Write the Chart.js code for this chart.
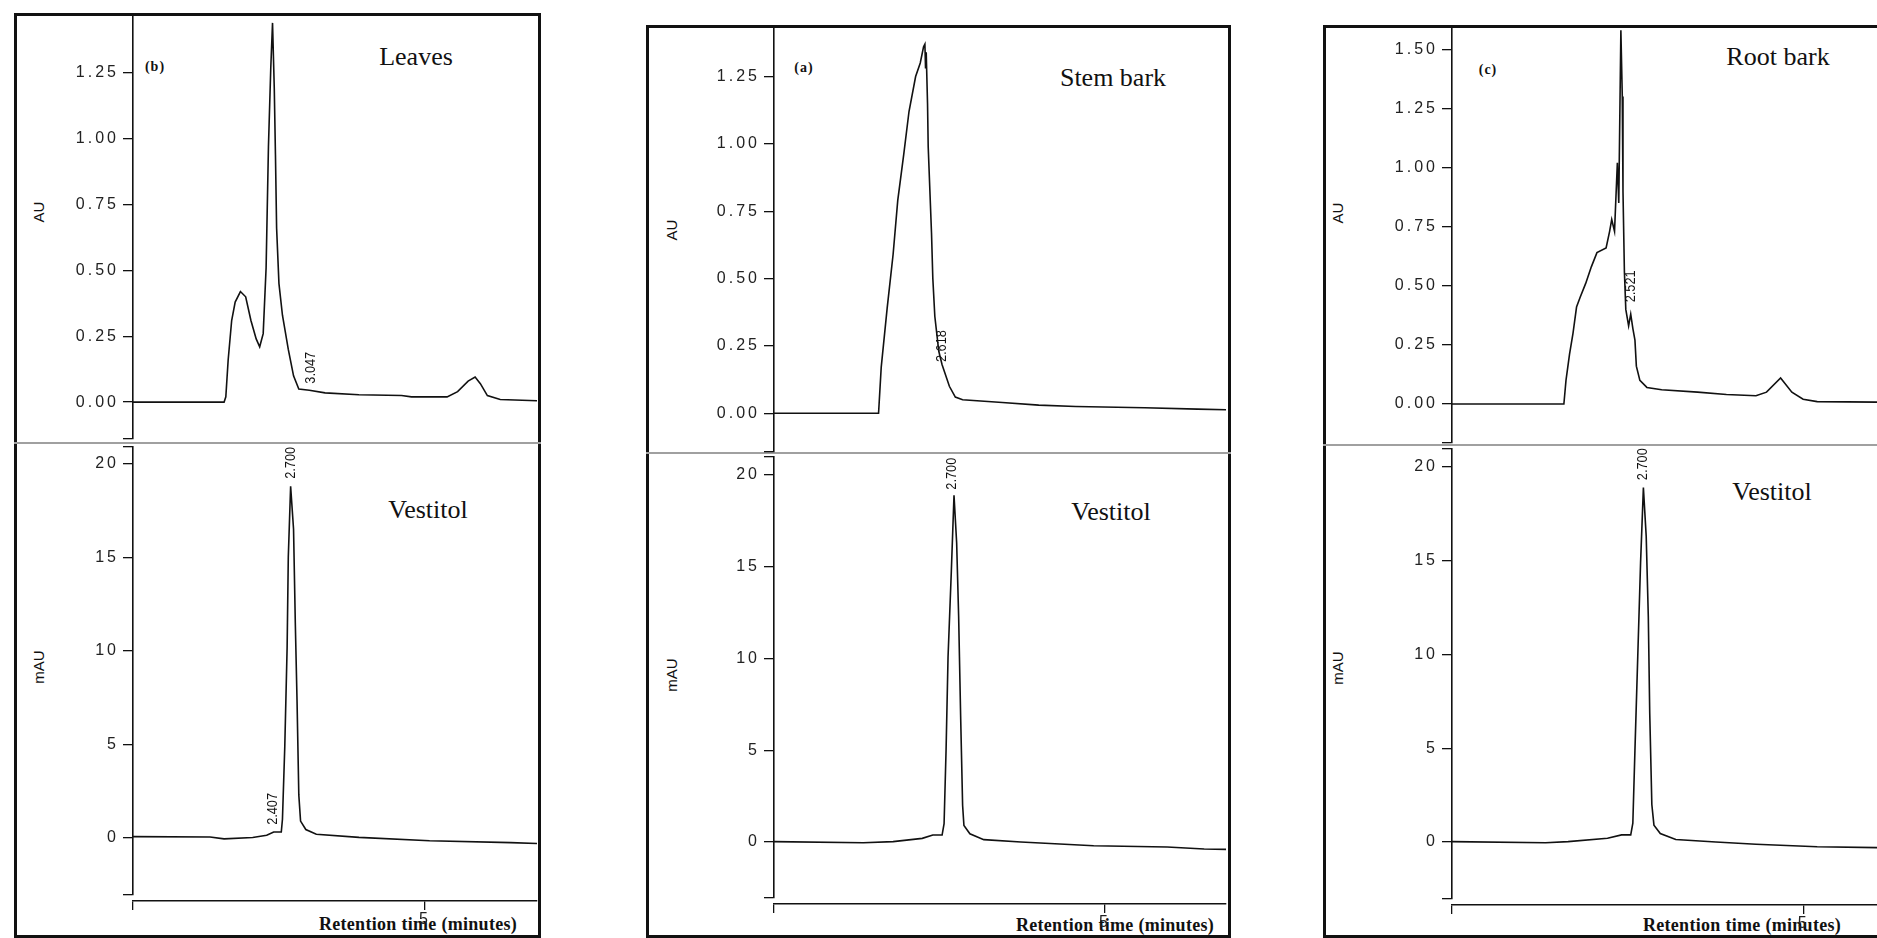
<!DOCTYPE html>
<html>
<head>
<meta charset="utf-8">
<title>HPLC chromatograms - vestitol</title>
<script src="https://cdn.jsdelivr.net/npm/chart.js@4.4.1/dist/chart.umd.min.js"></script>
<style>
  body { margin: 0; background: #fff; }
  #page { position: relative; width: 1877px; height: 938px; overflow: hidden; background: #fff; }
  .box { position: absolute; border: 3px solid #111; box-sizing: border-box; }
  .divider { position: absolute; height: 2px; background: #a0a0a0; }
  canvas { position: absolute; }
  .lbl { position: absolute; transform: translate(-50%, -50%); white-space: nowrap; color: #111; }
  .name { font: 26px "Liberation Serif", "Times New Roman", serif; }
  .tag { font: bold 14px "Liberation Serif", serif; letter-spacing: 1px; }
  .ytitle { font: 15px "Liberation Sans", Arial, sans-serif; transform: translate(-50%, -50%) rotate(-90deg); }
  .xtitle { font: bold 18px "Liberation Serif", serif; letter-spacing: 0.3px; }
</style>
</head>
<body>
<div id="page">
  <!-- panel frames -->
  <div class="box" style="left:14px;top:13px;width:527px;height:925px"></div>
  <div class="box" style="left:646px;top:25px;width:585px;height:913px"></div>
  <div class="box" style="left:1323px;top:25px;width:600px;height:913px"></div>
  <div class="divider" style="left:14px;top:442px;width:527px"></div>
  <div class="divider" style="left:646px;top:452px;width:585px"></div>
  <div class="divider" style="left:1323px;top:444px;width:560px"></div>

  <div class="lbl name" style="left:416px;top:57px">Leaves</div>
  <div class="lbl name" style="left:1113px;top:78px">Stem bark</div>
  <div class="lbl name" style="left:1778px;top:57px">Root bark</div>
  <div class="lbl name" style="left:428px;top:510px">Vestitol</div>
  <div class="lbl name" style="left:1111px;top:512px">Vestitol</div>
  <div class="lbl name" style="left:1772px;top:492px">Vestitol</div>

  <div class="lbl tag" style="left:155px;top:67px">(b)</div>
  <div class="lbl tag" style="left:804px;top:68px">(a)</div>
  <div class="lbl tag" style="left:1488px;top:70px">(c)</div>

  <div class="lbl ytitle" style="left:38px;top:212px">AU</div>
  <div class="lbl ytitle" style="left:671px;top:230px">AU</div>
  <div class="lbl ytitle" style="left:1337px;top:213px">AU</div>
  <div class="lbl ytitle" style="left:38px;top:667px">mAU</div>
  <div class="lbl ytitle" style="left:671px;top:675px">mAU</div>
  <div class="lbl ytitle" style="left:1337px;top:668px">mAU</div>

  <div class="lbl xtitle" style="left:418px;top:924px">Retention time (minutes)</div>
  <div class="lbl xtitle" style="left:1115px;top:925px">Retention time (minutes)</div>
  <div class="lbl xtitle" style="left:1742px;top:925px">Retention time (minutes)</div>
</div>

<script>
// Leaves extract (AU vs min)
const leavesTime = [0, 1.56, 1.59, 1.63, 1.69, 1.75, 1.84, 1.93, 2.02, 2.11, 2.17, 2.23, 2.28, 2.32, 2.36, 2.39, 2.42, 2.44, 2.46, 2.50, 2.56, 2.66, 2.75, 2.84, 3.02, 3.29, 3.87, 4.60, 4.77, 5.38, 5.56, 5.74, 5.86, 5.95, 6.07, 6.29, 6.92];
const leavesAU = [0, 0, 0.02, 0.16, 0.31, 0.38, 0.42, 0.40, 0.31, 0.24, 0.21, 0.26, 0.51, 0.97, 1.27, 1.44, 1.19, 0.94, 0.66, 0.45, 0.33, 0.20, 0.10, 0.05, 0.045, 0.035, 0.028, 0.025, 0.02, 0.02, 0.04, 0.08, 0.095, 0.07, 0.025, 0.01, 0.005];

// Stem bark extract
const stemTime = [0, 1.58, 1.62, 1.71, 1.80, 1.87, 1.96, 2.04, 2.14, 2.21, 2.26, 2.28, 2.29, 2.30, 2.32, 2.33, 2.38, 2.40, 2.43, 2.49, 2.54, 2.65, 2.74, 2.85, 3.45, 4.00, 4.56, 5.60, 6.40, 6.83];
const stemAU = [0, 0, 0.17, 0.39, 0.59, 0.79, 0.96, 1.12, 1.25, 1.30, 1.36, 1.37, 1.28, 1.34, 1.15, 0.99, 0.67, 0.50, 0.36, 0.23, 0.18, 0.10, 0.06, 0.05, 0.04, 0.03, 0.025, 0.02, 0.015, 0.013];

// Root bark extract
const rootTime = [0, 1.59, 1.62, 1.67, 1.72, 1.77, 1.82, 1.90, 1.98, 2.06, 2.19, 2.24, 2.27, 2.31, 2.35, 2.37, 2.40, 2.42, 2.43, 2.45, 2.47, 2.51, 2.54, 2.57, 2.60, 2.62, 2.67, 2.77, 2.98, 3.49, 3.90, 4.32, 4.47, 4.67, 4.83, 4.99, 5.19, 6.05];
const rootAU = [0, 0, 0.10, 0.21, 0.30, 0.41, 0.45, 0.51, 0.58, 0.64, 0.66, 0.73, 0.78, 0.73, 1.02, 0.85, 1.58, 1.30, 0.90, 0.56, 0.40, 0.33, 0.38, 0.32, 0.27, 0.16, 0.10, 0.07, 0.06, 0.05, 0.04, 0.035, 0.05, 0.11, 0.05, 0.02, 0.01, 0.008];

// Vestitol standard runs (mAU vs min), one under each extract
const vest1Time = [0, 1.32, 1.56, 2.05, 2.29, 2.41, 2.54, 2.56, 2.60, 2.64, 2.66, 2.70, 2.75, 2.78, 2.81, 2.84, 2.87, 2.96, 3.14, 3.87, 5.08, 6.47, 6.92];
const vest1mAU = [0.07, 0.05, -0.05, 0.02, 0.14, 0.32, 0.32, 1.0, 4.9, 10.2, 15.0, 18.8, 16.5, 11.5, 7.3, 2.3, 0.9, 0.45, 0.2, 0.03, -0.15, -0.25, -0.3];
const vest2Time = [0, 1.35, 1.80, 2.24, 2.40, 2.54, 2.57, 2.60, 2.63, 2.68, 2.72, 2.76, 2.79, 2.82, 2.85, 2.87, 2.96, 3.17, 3.73, 4.83, 5.94, 6.50, 6.83];
const vest2mAU = [0.02, -0.04, 0.02, 0.2, 0.38, 0.38, 1.0, 5.0, 10.1, 14.8, 18.9, 16.3, 12.3, 6.9, 2.0, 0.9, 0.45, 0.13, 0.0, -0.2, -0.27, -0.38, -0.4];
const vest3Time = [0, 1.33, 1.65, 2.21, 2.41, 2.54, 2.57, 2.60, 2.64, 2.68, 2.72, 2.76, 2.79, 2.81, 2.84, 2.87, 2.96, 3.18, 3.75, 4.32, 5.19, 6.05];
const vest3mAU = [0.02, -0.04, 0.02, 0.2, 0.38, 0.38, 1.0, 4.9, 9.9, 14.9, 18.9, 16.3, 12.0, 6.9, 2.0, 0.9, 0.45, 0.13, 0.0, -0.12, -0.25, -0.3];

// retention time labels printed by the software
const leavesPeaks = [{ t: 3.04, v: 0.07, text: '3.047' }];
const stemPeaks = [{ t: 2.54, v: 0.19, text: '2.618' }];
const rootPeaks = [{ t: 2.54, v: 0.43, text: '2.521' }];
const vest1Peaks = [{ t: 2.40, v: 0.7, text: '2.407' }, { t: 2.70, v: 19.2, text: '2.700' }];
const vest2Peaks = [{ t: 2.69, v: 19.2, text: '2.700' }];
const vest3Peaks = [{ t: 2.71, v: 19.3, text: '2.700' }];

// tick labels
const auTicks = [0, 0.25, 0.5, 0.75, 1.0, 1.25];
const auTicksRoot = [0, 0.25, 0.5, 0.75, 1.0, 1.25, 1.5];
const mauTicks = [0, 5, 10, 15, 20];
const timeTicks = [0, 5];

const tickFont = { family: '"Liberation Sans", Arial, sans-serif', size: 16 };
const page = document.getElementById('page');

// draws the small rotated retention time numbers next to the peaks
const peakNotes = {
    id: 'peakNotes',
    beforeDraw(chart) {
        chart.ctx.letterSpacing = '3px'; // spaced-out tick digits like the instrument printout
    },
    afterDatasetsDraw(chart, args, opts) {
        const ctx = chart.ctx;
        const xs = chart.scales.x, ys = chart.scales.y;
        (opts.notes || []).forEach(n => {
            ctx.save();
            ctx.letterSpacing = '0px';
            ctx.translate(xs.getPixelForValue(n.t), ys.getPixelForValue(n.v));
            ctx.rotate(-Math.PI / 2);
            ctx.scale(0.85, 1);
            ctx.font = '15px "Liberation Sans", Arial, sans-serif';
            ctx.fillStyle = '#111';
            ctx.textAlign = 'left';
            ctx.textBaseline = 'middle';
            ctx.fillText(n.text, 0, 0);
            ctx.restore();
        });
    }
};

function addChart(c) {
    const axisW = c.left - c.boxLeft - 4;
    const padTop = 3, padRight = 2, xGap = 6, xH = 34;
    const w = axisW + (c.right - c.left) + padRight;
    const h = padTop + (c.bottom - c.top) + (c.showX ? xGap + xH : 1);

    const canvas = document.createElement('canvas');
    canvas.width = w;
    canvas.height = h;
    canvas.style.left = (c.left - axisW) + 'px';
    canvas.style.top = (c.top - padTop) + 'px';
    page.appendChild(canvas);

    const points = c.time.map((t, i) => ({ x: t, y: c.values[i] }));
    const yList = [c.yMin].concat(c.yTicks, c.showX ? [c.yMax] : []);

    const scales = {
        x: {
            type: 'linear', min: 0, max: c.xMax, display: c.showX, weight: 1,
            afterBuildTicks: s => { s.ticks = timeTicks.map(v => ({ value: v })); },
            ticks: { callback: v => (v === 0 ? '' : String(v)), font: tickFont, color: '#222', padding: 0, maxRotation: 0, autoSkip: false },
            grid: { drawOnChartArea: false, tickLength: 9, color: '#111', lineWidth: 1.3 },
            border: { color: '#111', width: 1.6 },
            afterFit: s => {
                if (!c.showX) return;
                s.height = xH; s.paddingLeft = 0; s.paddingRight = 0;
            }
        },
        y: {
            type: 'linear', min: c.yMin, max: c.yMax,
            afterBuildTicks: s => { s.ticks = yList.map(v => ({ value: v })); },
            ticks: {
                callback: v => (c.yTicks.includes(v) ? (c.decimals ? v.toFixed(2) : String(v)) : ''),
                font: tickFont, color: '#222', padding: 4, autoSkip: false
            },
            grid: { drawOnChartArea: false, tickLength: 10, color: '#111', lineWidth: 1.3 },
            border: { color: '#111', width: 1.6 },
            afterFit: s => { s.width = axisW; s.paddingTop = 0; s.paddingBottom = 0; }
        }
    };
    if (c.showX) {
        // empty spacer so the time axis sits a little below the end of the signal axis
        scales.gap = {
            type: 'linear', axis: 'x', position: 'bottom', weight: 0, min: 0, max: c.xMax,
            ticks: { display: false }, grid: { display: false }, border: { display: false },
            afterFit: s => { s.height = xGap; s.paddingLeft = 0; s.paddingRight = 0; }
        };
    }

    return new Chart(canvas, {
        type: 'line',
        data: {
            datasets: [{
                data: points,
                borderColor: '#111',
                borderWidth: 1.6,
                pointRadius: 0,
                tension: 0,
                fill: false
            }]
        },
        options: {
            responsive: false,
            animation: false,
            events: [],
            layout: { padding: { left: 0, top: padTop, right: padRight, bottom: c.showX ? 0 : 1 } },
            scales: scales,
            plugins: {
                legend: { display: false },
                tooltip: { enabled: false },
                peakNotes: { notes: c.notes }
            }
        },
        plugins: [peakNotes]
    });
}

// Leaves (b)
addChart({ boxLeft: 14, left: 133, right: 537, top: 15, bottom: 439, yMin: -0.14, yMax: 1.47, xMax: 6.92,
    showX: false, yTicks: auTicks, decimals: true, time: leavesTime, values: leavesAU, notes: leavesPeaks });
addChart({ boxLeft: 14, left: 133, right: 537, top: 447, bottom: 895, yMin: -3.05, yMax: 20.9, xMax: 6.92,
    showX: true, yTicks: mauTicks, decimals: false, time: vest1Time, values: vest1mAU, notes: vest1Peaks });

// Stem bark (a)
addChart({ boxLeft: 646, left: 774, right: 1226, top: 28, bottom: 452, yMin: -0.144, yMax: 1.43, xMax: 6.83,
    showX: false, yTicks: auTicks, decimals: true, time: stemTime, values: stemAU, notes: stemPeaks });
addChart({ boxLeft: 646, left: 774, right: 1226, top: 457, bottom: 898, yMin: -3.05, yMax: 20.98, xMax: 6.83,
    showX: true, yTicks: mauTicks, decimals: false, time: vest2Time, values: vest2mAU, notes: vest2Peaks });

// Root bark (c)
addChart({ boxLeft: 1323, left: 1452, right: 1877, top: 28, bottom: 443, yMin: -0.165, yMax: 1.59, xMax: 6.04,
    showX: false, yTicks: auTicksRoot, decimals: true, time: rootTime, values: rootAU, notes: rootPeaks });
addChart({ boxLeft: 1323, left: 1452, right: 1877, top: 449, bottom: 899, yMin: -3.04, yMax: 20.96, xMax: 6.04,
    showX: true, yTicks: mauTicks, decimals: false, time: vest3Time, values: vest3mAU, notes: vest3Peaks });
</script>
</body>
</html>
